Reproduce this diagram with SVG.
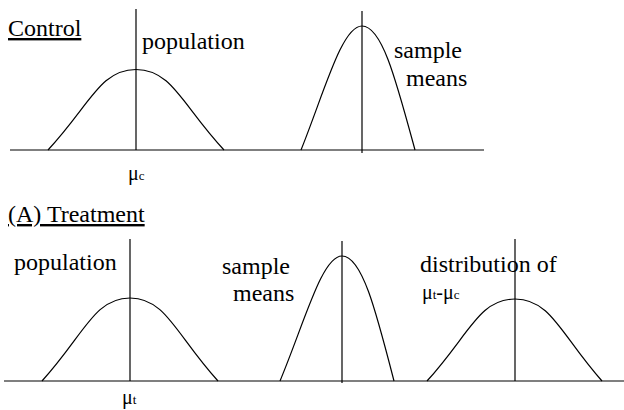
<svg xmlns="http://www.w3.org/2000/svg" width="624" height="410" viewBox="0 0 624 410">
<style>
  .ln{fill:none;stroke:#000;stroke-width:1.2}
  text{font-family:'Liberation Serif','Times New Roman',serif;fill:#000}
  .t{font-size:24px}
  .u{text-decoration:underline}
  .mu{font-size:20px}
  .sub{font-size:13px}
</style>
<rect width="624" height="410" fill="#fff"/>
<g id="control">
  <text class="t u" x="8" y="36">Control</text>
  <line class="ln" x1="10" y1="150" x2="484" y2="150"/>
  <g id="control-population">
    <path class="ln" d="M48,150 C90,105 100,69.5 136,69.5 C172,69.5 182,105 224,150"/>
    <line class="ln" x1="136" y1="9" x2="136" y2="150"/>
    <text class="t" x="142" y="49">population</text>
    <text class="mu" x="128" y="180">μ<tspan class="sub">c</tspan></text>
  </g>
  <g id="control-sample-means">
    <path class="ln" d="M301,150 C325,90 342,26 362,26 C382,26 396,80 415,150"/>
    <line class="ln" x1="362" y1="11" x2="362" y2="153"/>
    <text class="t" x="394" y="58">sample</text>
    <text class="t" x="406" y="86">means</text>
  </g>
</g>
<g id="treatment">
  <text class="t u" x="8" y="222">(A) Treatment</text>
  <line class="ln" x1="4" y1="381" x2="624" y2="381"/>
  <g id="treatment-population">
    <path class="ln" d="M42,381 C84,335 94,298 130,298 C166,298 176,335 218,381"/>
    <line class="ln" x1="130" y1="239" x2="130" y2="381"/>
    <text class="t" x="14" y="270">population</text>
    <text class="mu" x="122" y="404">μ<tspan class="sub">t</tspan></text>
  </g>
  <g id="treatment-sample-means">
    <path class="ln" d="M280,381 C305,321 322,256 342,256 C362,256 376,311 394,381"/>
    <line class="ln" x1="342" y1="241" x2="342" y2="383"/>
    <text class="t" x="222" y="274">sample</text>
    <text class="t" x="233" y="301">means</text>
  </g>
  <g id="difference-distribution">
    <path class="ln" d="M427,381 C469,335 479,299 515,299 C551,299 561,335 602,381"/>
    <line class="ln" x1="515" y1="239" x2="515" y2="381" stroke="#333"/>
    <text class="t" x="420" y="272">distribution of</text>
    <text class="mu" x="422" y="299">μ<tspan class="sub">t</tspan>-μ<tspan class="sub">c</tspan></text>
  </g>
</g>
</svg>
